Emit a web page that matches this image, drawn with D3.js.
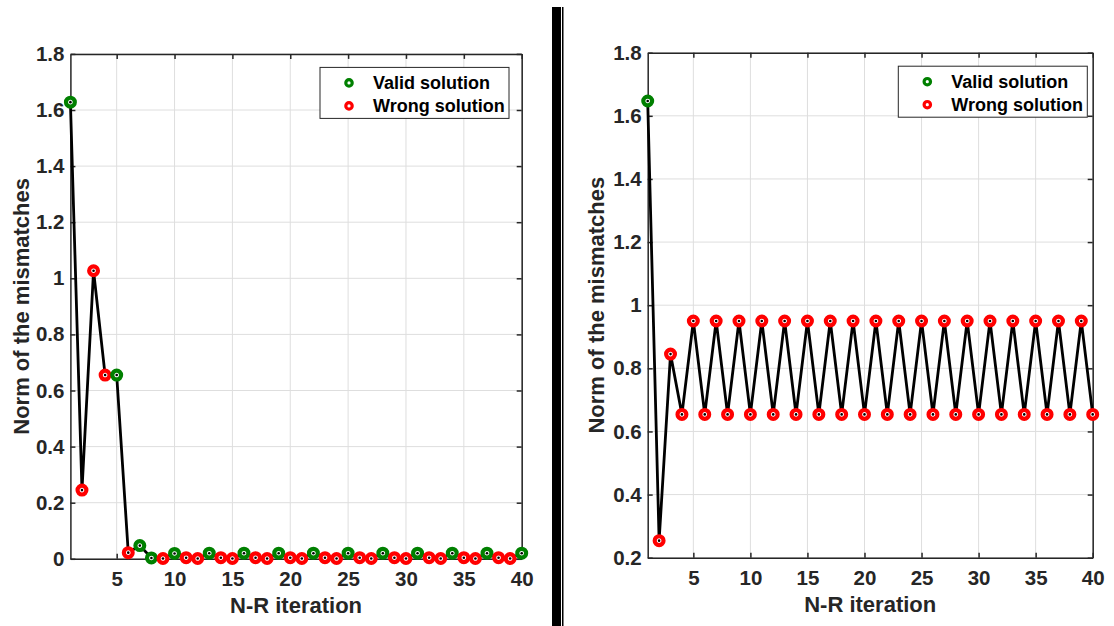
<!DOCTYPE html>
<html>
<head>
<meta charset="utf-8">
<script src="https://cdn.jsdelivr.net/npm/d3@7"></script>
<style>
  body { margin: 0; background: #fff; }
  svg text { font-family: "Liberation Sans", Arial, sans-serif; font-weight: bold; }
  .tick text { fill: #262626; font-size: 20.5px; }
  .tick line { stroke: #262626; }
  .domain { stroke: #262626; stroke-width: 1.5; }
  .grid line { stroke: #dedede; stroke-width: 1; }
</style>
</head>
<body>
<div id="chart"></div>
<script>
// N-R iteration number
var iterations = [1,2,3,4,5,6,7,8,9,10,11,12,13,14,15,16,17,18,19,20,
                  21,22,23,24,25,26,27,28,29,30,31,32,33,34,35,36,37,38,39,40];

// left case: converges
var leftValues = [1.628,0.245,1.027,0.655,0.655,0.022,0.047,0.003,0.001,0.019,
                  0.004,0.001,0.02,0.004,0.001,0.02,0.004,0.001,0.02,0.004,
                  0.001,0.02,0.004,0.001,0.02,0.004,0.001,0.02,0.004,0.001,
                  0.02,0.004,0.001,0.02,0.004,0.001,0.02,0.004,0.001,0.02];
// 1 = valid solution, 0 = wrong solution
var leftValid = [1,0,0,0,1,0,1,1,0,1,0,0,1,0,0,1,0,0,1,0,
                 0,1,0,0,1,0,0,1,0,0,1,0,0,1,0,0,1,0,0,1];

// right case: oscillates
var rightValues = [1.647,0.254,0.845,0.654,0.95,0.654,0.95,0.654,0.95,0.654,
                   0.95,0.654,0.95,0.654,0.95,0.654,0.95,0.654,0.95,0.654,
                   0.95,0.654,0.95,0.654,0.95,0.654,0.95,0.654,0.95,0.654,
                   0.95,0.654,0.95,0.654,0.95,0.654,0.95,0.654,0.95,0.654];
var rightValid = [1,0,0,0,0,0,0,0,0,0,0,0,0,0,0,0,0,0,0,0,
                  0,0,0,0,0,0,0,0,0,0,0,0,0,0,0,0,0,0,0,0];

var xTicks = [5,10,15,20,25,30,35,40];
var leftYTicks = [0,0.2,0.4,0.6,0.8,1,1.2,1.4,1.6,1.8];
var rightYTicks = [0.2,0.4,0.6,0.8,1,1.2,1.4,1.6,1.8];
var legendLabels = ["Valid solution","Wrong solution"];
var xTitle = "N-R iteration";
var yTitle = "Norm of the mismatches";

var validColor = "#008000", wrongColor = "#ff0000";

var svg = d3.select("#chart")
  .append("svg")
    .attr("width", 1114)
    .attr("height", 626);

function Draw_Panel(opt){
  var width = opt.width, height = opt.height;
  var g = svg.append("g")
    .attr("transform", "translate(" + opt.left + "," + opt.top + ")");

  var x = d3.scaleLinear().domain([1, 40]).range([0, width]);
  var y = d3.scaleLinear().domain(opt.yDomain).range([height, 0]);

  //grid
  g.append("g").attr("class","grid")
    .selectAll("line").data(xTicks).enter().append("line")
    .attr("x1", function(d){ return x(d); }).attr("x2", function(d){ return x(d); })
    .attr("y1", 0).attr("y2", height);
  g.append("g").attr("class","grid")
    .selectAll("line").data(opt.yTicks).enter().append("line")
    .attr("y1", function(d){ return y(d); }).attr("y2", function(d){ return y(d); })
    .attr("x1", 0).attr("x2", width);

  var fmt = function(d){ return String(+d.toFixed(1)); };

  //axes, ticks pointing inward on all sides
  g.append("g")
    .attr("transform", "translate(0," + height + ")")
    .call(d3.axisBottom(x).tickValues(xTicks).tickSizeInner(-5).tickSizeOuter(0).tickPadding(13));
  g.append("g")
    .call(d3.axisTop(x).tickValues(xTicks).tickSizeInner(-5).tickSizeOuter(0).tickFormat(""));
  g.append("g")
    .call(d3.axisLeft(y).tickValues(opt.yTicks).tickFormat(fmt).tickSizeInner(-5).tickSizeOuter(0).tickPadding(6));
  g.append("g")
    .attr("transform", "translate(" + width + ",0)")
    .call(d3.axisRight(y).tickValues(opt.yTicks).tickSizeInner(-5).tickSizeOuter(0).tickFormat(""));
  g.selectAll(".domain").attr("stroke", "#262626").attr("stroke-width", 1.5);
  g.selectAll(".tick line").attr("stroke-width", 1.5);

  //line
  var line = d3.line()
    .x(function(d, i){ return x(iterations[i]); })
    .y(function(d){ return y(d); });
  g.append("path")
    .datum(opt.values)
    .attr("fill", "none")
    .attr("stroke", "#000")
    .attr("stroke-width", 2.8)
    .attr("d", line);

  //markers
  var pts = g.selectAll(".pt")
    .data(opt.values)
    .enter()
    .append("g")
    .attr("transform", function(d, i){ return "translate(" + x(iterations[i]) + "," + y(d) + ")"; });
  pts.append("circle")
    .attr("r", 4.4)
    .attr("fill", "#fff")
    .attr("stroke-width", 4.2)
    .attr("stroke", function(d, i){ return opt.valid[i] ? validColor : wrongColor; });
  pts.append("circle")
    .attr("r", 1.3)
    .attr("fill", "#000");

  //axis titles
  g.append("text")
    .attr("x", width / 2)
    .attr("y", height + 54)
    .attr("text-anchor", "middle")
    .attr("font-size", "22px")
    .attr("fill", "#262626")
    .text(xTitle);
  g.append("text")
    .attr("transform", "translate(" + opt.yTitleX + "," + (height / 2) + ")rotate(-90)")
    .attr("text-anchor", "middle")
    .attr("dominant-baseline", "central")
    .attr("font-size", "22px")
    .attr("fill", "#262626")
    .text(yTitle);

  //legend
  var lg = g.append("g")
    .attr("transform", "translate(" + (width - opt.legendGap - 189) + ",13.5)");
  lg.append("rect")
    .attr("width", 189).attr("height", 51)
    .attr("fill", "#fff")
    .attr("stroke", "#262626")
    .attr("stroke-width", 1);
  var rows = lg.selectAll(".row")
    .data(legendLabels)
    .enter()
    .append("g")
    .attr("transform", function(d, i){ return "translate(0," + (15.5 + i * 23) + ")"; });
  rows.append("circle")
    .attr("cx", 29)
    .attr("r", 3.2)
    .attr("fill", "#fff")
    .attr("stroke-width", 3.2)
    .attr("stroke", function(d, i){ return i == 0 ? validColor : wrongColor; });
  rows.append("text")
    .attr("x", 53)
    .attr("dy", "0.35em")
    .attr("font-size", "18px")
    .attr("fill", "#000")
    .text(function(d){ return d; });
}

Draw_Panel({left: 70.4, top: 53.9, width: 451.3, height: 504.9,
            yDomain: [0, 1.8], yTicks: leftYTicks,
            values: leftValues, valid: leftValid,
            yTitleX: -49, legendGap: 12.7});

Draw_Panel({left: 647.7, top: 52.7, width: 445, height: 505,
            yDomain: [0.2, 1.8], yTicks: rightYTicks,
            values: rightValues, valid: rightValid,
            yTitleX: -51, legendGap: 5.4});

//separator between the two figures
svg.append("rect")
  .attr("x", 552).attr("y", 7)
  .attr("width", 9).attr("height", 619)
  .attr("fill", "#000");
svg.append("rect")
  .attr("x", 562).attr("y", 7)
  .attr("width", 1.5).attr("height", 619)
  .attr("fill", "#000");
</script>
</body>
</html>
